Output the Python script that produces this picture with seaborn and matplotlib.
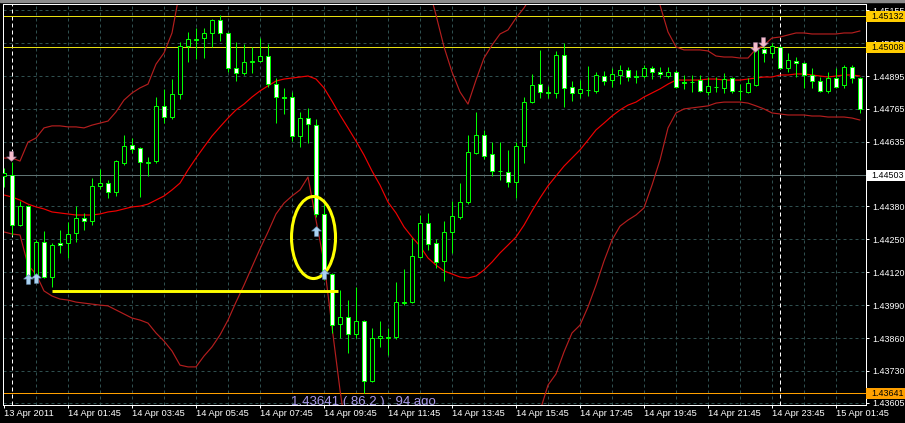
import numpy as np
import pandas as pd
import matplotlib
matplotlib.use("Agg")
import matplotlib.pyplot as plt
import matplotlib.transforms as mtransforms
from matplotlib.patches import Ellipse, Rectangle
from matplotlib.path import Path
import seaborn as sns

# EURUSD-like M15 candles, 13 Apr 23:45 -> 15 Apr 02:30
opens = [1.44500, 1.44504, 1.44306, 1.44381, 1.44109, 1.44239, 1.44101, 1.44235, 1.44235, 1.44275,
         1.44334, 1.44322, 1.44461, 1.44472, 1.44437, 1.44551, 1.44622, 1.44611, 1.44553, 1.44559,
         1.44777, 1.44733, 1.44824, 1.45014, 1.45039, 1.45045, 1.45065, 1.45116, 1.45065, 1.44927,
         1.44907, 1.44952, 1.44954, 1.44974, 1.44863, 1.44812, 1.44812, 1.44658, 1.44729, 1.44701,
         1.44350, 1.44113, 1.43915, 1.43943, 1.43876, 1.43927, 1.43690, 1.43860, 1.43862, 1.43864,
         1.44000, 1.44002, 1.44180, 1.44314, 1.44235, 1.44164, 1.44279, 1.44338, 1.44397, 1.44591,
         1.44662, 1.44587, 1.44520, 1.44516, 1.44476, 1.44618, 1.44792, 1.44863, 1.44832, 1.44828,
         1.44978, 1.44852, 1.44828, 1.44838, 1.44836, 1.44895, 1.44879, 1.44899, 1.44919, 1.44895,
         1.44895, 1.44927, 1.44911, 1.44895, 1.44911, 1.44871, 1.44873, 1.44879, 1.44832, 1.44852,
         1.44848, 1.44887, 1.44836, 1.44832, 1.44859, 1.45002, 1.44986, 1.45010, 1.44927, 1.44954,
         1.44946, 1.44899, 1.44875, 1.44836, 1.44887, 1.44859, 1.44931, 1.44887]
highs = [1.44532, 1.44555, 1.44401, 1.44385, 1.44247, 1.44283, 1.44235, 1.44287, 1.44318, 1.44381,
         1.44354, 1.44492, 1.44528, 1.44484, 1.44563, 1.44662, 1.44650, 1.44615, 1.44575, 1.44812,
         1.44844, 1.44883, 1.45029, 1.45069, 1.45085, 1.45085, 1.45120, 1.45136, 1.45069, 1.45029,
         1.45021, 1.45010, 1.45045, 1.45021, 1.44887, 1.44848, 1.44832, 1.44753, 1.44769, 1.44725,
         1.44389, 1.44117, 1.44050, 1.44010, 1.44062, 1.43930, 1.43900, 1.43927, 1.43900, 1.44081,
         1.44133, 1.44255, 1.44346, 1.44354, 1.44251, 1.44322, 1.44401, 1.44472, 1.44662, 1.44753,
         1.44682, 1.44634, 1.44634, 1.44603, 1.44634, 1.44812, 1.44903, 1.44998, 1.44855, 1.44994,
         1.45025, 1.44875, 1.44879, 1.44935, 1.44911, 1.44915, 1.44927, 1.44938, 1.44931, 1.44919,
         1.44938, 1.44935, 1.44931, 1.44931, 1.44919, 1.44899, 1.44899, 1.44899, 1.44891, 1.44891,
         1.44907, 1.44891, 1.44863, 1.44887, 1.45017, 1.45010, 1.45025, 1.45014, 1.44986, 1.44970,
         1.44950, 1.44927, 1.44891, 1.44911, 1.44927, 1.44938, 1.44938, 1.44891]
lows = [1.44457, 1.44267, 1.44302, 1.44101, 1.44097, 1.44097, 1.44062, 1.44196, 1.44176, 1.44239,
        1.44287, 1.44306, 1.44449, 1.44413, 1.44421, 1.44543, 1.44591, 1.44417, 1.44500, 1.44551,
        1.44709, 1.44725, 1.44804, 1.44950, 1.44962, 1.44966, 1.45010, 1.45033, 1.44911, 1.44875,
        1.44899, 1.44907, 1.44950, 1.44852, 1.44709, 1.44745, 1.44638, 1.44615, 1.44630, 1.44338,
        1.44089, 1.43880, 1.43860, 1.43801, 1.43860, 1.43641, 1.43686, 1.43825, 1.43793, 1.43856,
        1.43990, 1.43998, 1.44176, 1.44208, 1.44137, 1.44085, 1.44196, 1.44330, 1.44389, 1.44587,
        1.44567, 1.44500, 1.44484, 1.44457, 1.44413, 1.44551, 1.44788, 1.44808, 1.44808, 1.44808,
        1.44773, 1.44796, 1.44808, 1.44816, 1.44828, 1.44859, 1.44852, 1.44863, 1.44875, 1.44867,
        1.44887, 1.44883, 1.44887, 1.44887, 1.44848, 1.44844, 1.44832, 1.44832, 1.44820, 1.44832,
        1.44828, 1.44828, 1.44800, 1.44828, 1.44855, 1.44950, 1.44966, 1.44923, 1.44911, 1.44891,
        1.44848, 1.44848, 1.44832, 1.44828, 1.44848, 1.44848, 1.44867, 1.44749]
closes = [1.44512, 1.44306, 1.44381, 1.44105, 1.44239, 1.44101, 1.44227, 1.44227, 1.44271, 1.44334,
          1.44322, 1.44461, 1.44472, 1.44437, 1.44559, 1.44618, 1.44607, 1.44555, 1.44555, 1.44777,
          1.44733, 1.44824, 1.45014, 1.45041, 1.45041, 1.45065, 1.45116, 1.45065, 1.44927, 1.44907,
          1.44950, 1.44954, 1.44974, 1.44863, 1.44812, 1.44810, 1.44658, 1.44729, 1.44705, 1.44350,
          1.44117, 1.43911, 1.43943, 1.43876, 1.43927, 1.43690, 1.43860, 1.43868, 1.43864, 1.44002,
          1.44002, 1.44184, 1.44314, 1.44231, 1.44160, 1.44279, 1.44342, 1.44397, 1.44595, 1.44662,
          1.44579, 1.44520, 1.44518, 1.44476, 1.44618, 1.44792, 1.44859, 1.44832, 1.44828, 1.44978,
          1.44848, 1.44828, 1.44844, 1.44840, 1.44899, 1.44875, 1.44903, 1.44919, 1.44891, 1.44893,
          1.44927, 1.44911, 1.44903, 1.44911, 1.44852, 1.44869, 1.44871, 1.44836, 1.44856, 1.44850,
          1.44883, 1.44836, 1.44834, 1.44867, 1.44998, 1.44986, 1.45014, 1.44927, 1.44958, 1.44946,
          1.44899, 1.44875, 1.44836, 1.44887, 1.44852, 1.44931, 1.44887, 1.44765]

# Bollinger bands (off-screen parts are estimates)
band_upper = [1.44571, 1.44571, 1.44559, 1.44634, 1.44650, 1.44690, 1.44698, 1.44698, 1.44694, 1.44694,
              1.44690, 1.44701, 1.44709, 1.44717, 1.44753, 1.44800, 1.44828, 1.44848, 1.44863, 1.44942,
              1.44986, 1.45065, 1.45235, 1.45333, 1.45380, 1.45420, 1.45450, 1.45470, 1.45480, 1.45480,
              1.45470, 1.45460, 1.45440, 1.45420, 1.45400, 1.45390, 1.45390, 1.45400, 1.45420, 1.45440,
              1.45460, 1.45470, 1.45470, 1.45460, 1.45450, 1.45440, 1.45430, 1.45420, 1.45410, 1.45400,
              1.45380, 1.45350, 1.45310, 1.45254, 1.45136, 1.45010, 1.44911, 1.44832, 1.44784, 1.44879,
              1.44966, 1.45017, 1.45061, 1.45077, 1.45124, 1.45164, 1.45215, 1.45274, 1.45330, 1.45380,
              1.45410, 1.45430, 1.45440, 1.45440, 1.45430, 1.45420, 1.45410, 1.45400, 1.45380, 1.45360,
              1.45333, 1.45274, 1.45175, 1.45069, 1.45010, 1.44998, 1.44998, 1.44998, 1.44994, 1.44974,
              1.44970, 1.44970, 1.44966, 1.44966, 1.45002, 1.45017, 1.45045, 1.45049, 1.45057, 1.45065,
              1.45065, 1.45061, 1.45061, 1.45061, 1.45061, 1.45065, 1.45065, 1.45073]
band_middle = [1.44425, 1.44417, 1.44405, 1.44389, 1.44378, 1.44370, 1.44358, 1.44354, 1.44350, 1.44346,
               1.44346, 1.44346, 1.44350, 1.44358, 1.44362, 1.44370, 1.44378, 1.44381, 1.44389, 1.44405,
               1.44421, 1.44445, 1.44472, 1.44524, 1.44571, 1.44615, 1.44658, 1.44694, 1.44729, 1.44761,
               1.44784, 1.44812, 1.44836, 1.44856, 1.44875, 1.44883, 1.44887, 1.44891, 1.44895, 1.44883,
               1.44848, 1.44796, 1.44741, 1.44690, 1.44638, 1.44583, 1.44520, 1.44464, 1.44397, 1.44354,
               1.44299, 1.44259, 1.44223, 1.44176, 1.44148, 1.44125, 1.44113, 1.44101, 1.44097, 1.44105,
               1.44129, 1.44160, 1.44196, 1.44227, 1.44259, 1.44306, 1.44362, 1.44413, 1.44461, 1.44500,
               1.44539, 1.44571, 1.44603, 1.44642, 1.44682, 1.44709, 1.44737, 1.44761, 1.44780, 1.44792,
               1.44812, 1.44828, 1.44844, 1.44863, 1.44879, 1.44879, 1.44879, 1.44879, 1.44883, 1.44883,
               1.44879, 1.44879, 1.44879, 1.44883, 1.44887, 1.44891, 1.44891, 1.44899, 1.44899, 1.44903,
               1.44903, 1.44899, 1.44895, 1.44891, 1.44895, 1.44899, 1.44899, 1.44895]
band_lower = [1.44279, 1.44271, 1.44267, 1.44148, 1.44113, 1.44046, 1.44026, 1.44014, 1.44010, 1.44002,
              1.43998, 1.43994, 1.43990, 1.43987, 1.43971, 1.43955, 1.43939, 1.43931, 1.43919, 1.43880,
              1.43848, 1.43809, 1.43753, 1.43746, 1.43746, 1.43789, 1.43825, 1.43872, 1.43931, 1.44002,
              1.44069, 1.44141, 1.44212, 1.44279, 1.44350, 1.44393, 1.44421, 1.44445, 1.44496, 1.44326,
              1.44160, 1.43904, 1.43655, 1.43437, 1.43300, 1.43200, 1.43120, 1.43060, 1.43020, 1.43000,
              1.43000, 1.43010, 1.43030, 1.43060, 1.43090, 1.43120, 1.43150, 1.43180, 1.43210, 1.43240,
              1.43270, 1.43300, 1.43330, 1.43360, 1.43390, 1.43430, 1.43473, 1.43572, 1.43674, 1.43718,
              1.43805, 1.43880, 1.43911, 1.43983, 1.44069, 1.44164, 1.44247, 1.44302, 1.44326, 1.44346,
              1.44374, 1.44464, 1.44563, 1.44690, 1.44749, 1.44765, 1.44769, 1.44773, 1.44777, 1.44788,
              1.44792, 1.44792, 1.44792, 1.44788, 1.44777, 1.44765, 1.44749, 1.44745, 1.44741, 1.44741,
              1.44741, 1.44737, 1.44737, 1.44733, 1.44733, 1.44733, 1.44729, 1.44721]

time_labels = ["13 Apr 2011", "14 Apr 01:45", "14 Apr 03:45", "14 Apr 05:45", "14 Apr 07:45",
               "14 Apr 09:45", "14 Apr 11:45", "14 Apr 13:45", "14 Apr 15:45", "14 Apr 17:45",
               "14 Apr 19:45", "14 Apr 21:45", "14 Apr 23:45", "15 Apr 01:45"]
price_ticks = [1.45155, 1.45025, 1.44895, 1.44765, 1.44635, 1.44505, 1.44380,
               1.44250, 1.44120, 1.43990, 1.43860, 1.43730, 1.43605]

# horizontal levels with their price boxes on the right
levels = [1.45132, 1.45008, 1.44503, 1.43641]
level_colors = ["#E8E010", "#E8E010", "#5F7373", "#FFA000"]
level_box_colors = ["#FFCC00", "#FFCC00", "#FFFFFF", "#FFA000"]

# trade arrows (bar index, price)
sell_bars = [0.9, 93.9, 94.9]
sell_prices = [1.44579, 1.45010, 1.45029]
buy_bars = [3.0, 4.0, 39.0, 40.0]
buy_prices = [1.44093, 1.44097, 1.44283, 1.44113]

n = len(opens)
assert all(len(a) == n for a in [highs, lows, closes, band_upper, band_middle, band_lower])
bars = np.arange(n)
o = np.array(opens); h = np.array(highs); l = np.array(lows); c = np.array(closes)

sns.set_style("dark", {"axes.facecolor": "black", "figure.facecolor": "black"})
plt.rcParams["font.family"] = ["Liberation Sans", "DejaVu Sans"]

W, H = 905, 423
fig = plt.figure(figsize=(W / 100, H / 100), dpi=100, facecolor="black")
ax = fig.add_axes([3 / W, 18 / H, 863 / W, 401 / H])
ax.set_facecolor("black")
ymin, ymax = 1.435955, 1.451794
ax.set_xlim(-0.125, 107.75)
ax.set_ylim(ymin, ymax)
px = 0.72  # one pixel in points

# grid
grid_kw = dict(color="#2F4F4F", lw=px, ls=(0, (3, 3)), zorder=0.5)
for p in price_ticks:
    ax.axhline(p, **grid_kw)
for b in range(4, n, 4):
    ax.axvline(b, **grid_kw)

# day separators
for b in [1, 97]:
    ax.axvline(b, color="white", lw=px, ls=(0, (4, 3)), zorder=0.8)

# level lines
for p, col in zip(levels, level_colors):
    ax.axhline(p, color=col, lw=px, zorder=1)

# bands
bands = pd.DataFrame({
    "bar": np.tile(bars, 3),
    "price": band_upper + band_middle + band_lower,
    "band": ["upper"] * n + ["middle"] * n + ["lower"] * n,
})
sns.lineplot(data=bands, x="bar", y="price", hue="band", units="band", estimator=None,
             palette={"upper": "#B41E1E", "middle": "#F00000", "lower": "#B41E1E"},
             legend=False, lw=0.85, ax=ax, zorder=2)

# candles
green = "#00FF00"
ax.vlines(bars, l, h, color=green, lw=px, zorder=3)
bull = c >= o
ax.bar(bars, np.abs(c - o), bottom=np.minimum(o, c), width=0.55,
       color=np.where(bull, "black", "white"), edgecolor=green, lw=px, zorder=4)

# arrows
up = Path([(-0.2, -0.5), (0.2, -0.5), (0.2, 0.05), (0.5, 0.05), (0, 0.5), (-0.5, 0.05), (-0.2, 0.05), (-0.2, -0.5)])
down = Path([(x, -y) for x, y in up.vertices])
ax.scatter(sell_bars, sell_prices, marker=down, s=48, c="#F6BCCB", edgecolors="#9C7A96", linewidths=0.5, zorder=6)
ax.scatter(buy_bars, buy_prices, marker=up, s=48, c="#AAD2F2", edgecolors="#6A8FB0", linewidths=0.5, zorder=6)

# hand-drawn annotations
ax.hlines(1.44045, 5.96, 41.7, color="#FFFF00", lw=2.1, zorder=5)
ax.add_patch(Ellipse((38.69, 1.44257), 5.5, 0.003239, fill=False, ec="#FFFF00", lw=2.2, zorder=5))
ax.text(35.9, ymin + 0.00001, "1.43641 ( 86.2 ) : 94 ago", color="#A898E8", fontsize=9.5,
        va="baseline", ha="left", zorder=6, clip_on=True)

# axes styling
for s in ax.spines.values():
    s.set_color("white")
    s.set_linewidth(px)
    s.set_visible(True)
ax.yaxis.tick_right()
ax.set_yticks(price_ticks)
ax.set_yticklabels([f"{p:.5f}" if abs(p - 1.44505) > 1e-6 else "" for p in price_ticks])
ax.set_xticks(np.arange(0, n, 8))
ax.set_xticklabels(time_labels)
for lbl in ax.get_xticklabels():
    lbl.set_ha("left")
ax.tick_params(axis="y", colors="white", labelsize=6.4, length=2.2, width=px, pad=2.0, direction="out")
ax.tick_params(axis="x", colors="white", labelsize=6.7, length=2.2, width=px, pad=1.0, direction="out")
ax.tick_params(left=False, top=False, right=True, bottom=True)
ax.set_xlabel("")
ax.set_ylabel("")
ax.grid(False)

# price boxes on the right axis
trans = mtransforms.blended_transform_factory(ax.transAxes, ax.transData)
box_h = 11 * (ymax - ymin) / 401
for p, fc in zip(levels, level_box_colors):
    ax.add_patch(Rectangle((1.0, p - box_h / 2), 40 / 863, box_h, transform=trans,
                           fc=fc, ec="none", clip_on=False, zorder=7))
    ax.text(1.0066, p, f"{p:.5f}", transform=trans, va="center", ha="left",
            fontsize=6.4, color="black", clip_on=False, zorder=8)

fig.add_artist(Rectangle((0, 1 - 2 / H), 1, 2 / H, transform=fig.transFigure, color="#8C8C8C"))

fig.savefig("out.png", dpi=100, facecolor="black")
